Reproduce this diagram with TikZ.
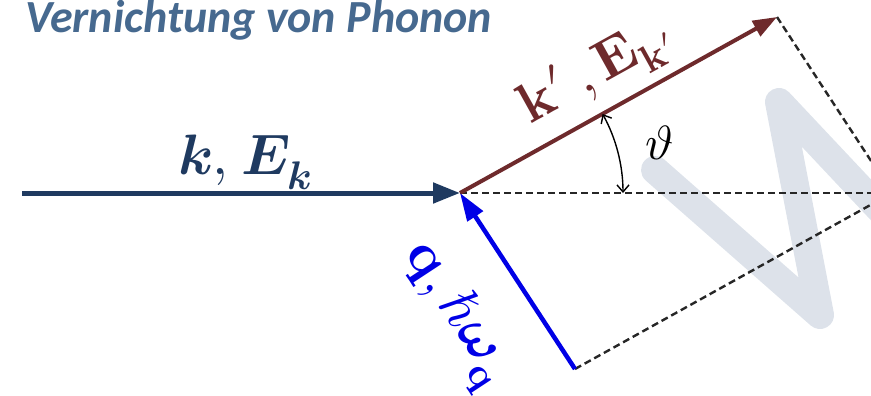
\documentclass[tikz,border=0pt]{standalone}
\usepackage{fontspec}
\usepackage{unicode-math}
\setmathfont{Latin Modern Math}
\usetikzlibrary{arrows.meta,calc}
\newfontfamily\titlefont{Carlito}
\definecolor{navy}{HTML}{1F3A60}
\definecolor{titleblue}{HTML}{46698F}
\definecolor{brownred}{HTML}{6E2A2C}
\definecolor{qblue}{HTML}{0000E6}
\definecolor{wmark}{HTML}{DDE2EA}
\begin{document}
\begin{tikzpicture}[x=1pt,y=-1pt,
  dashline/.style={black!85,line width=2.4pt,dash pattern=on 7pt off 4pt},
  biglabel/.style={inner sep=0pt,font=\fontsize{56}{60}\selectfont},
]
\useasboundingbox (0,0) rectangle (871,396);
\clip (0,0) rectangle (871,396);
% watermark
\draw[wmark,line width=28pt,line cap=round,line join=round]
  (655,170) -- (820,315) -- (779,102) -- (905,236);
% points
\coordinate (L) at (22,193);
\coordinate (O) at (460,193);
\coordinate (A) at (777,17);
\coordinate (B) at (575,369);
\coordinate (D) at (892,193);
% dashed rectangle
\draw[dashline] (O) -- (D);
\draw[dashline] (A) -- (D);
\draw[dashline] (B) -- (D);
% vectors
\draw[navy,line width=5pt,-{Triangle[length=27pt,width=20pt]}] (L) -- (O);
\draw[brownred,line width=4pt,-{Triangle[length=24pt,width=17pt]}] (O) -- (A);
\draw[qblue,line width=4.5pt,-{Triangle[length=28pt,width=18pt]}] (B) -- (O);
% angle
\draw[black,line width=1.4pt,{Straight Barb[length=7pt,width=12pt]}-{Straight Barb[length=7pt,width=12pt]}]
  ($(O)+(163,0)$) arc[start angle=0,end angle=-29,radius=163];
\node[inner sep=0pt,font=\fontsize{48}{50}\selectfont] (th) at (660,143) {$\vartheta$};
% labels
\node[anchor=base west,inner sep=0pt,text=titleblue,font=\titlefont\bfseries\itshape\fontsize{46}{50}\selectfont] (title) at (25,33) {Vernichtung von Phonon};
\node[biglabel,anchor=base west,text=navy,font=\fontsize{57}{60}\selectfont] (kl) at (178,175) {$\symbfit{k},\mkern1mu \symbfit{E}_{\symbfit{k}}$};
\node[biglabel,text=brownred,rotate=29] (kpl) at (596,72) {$\symbf{k}\prime\,,\symbf{E}_{\symbf{k}\prime}$};
\node[biglabel,text=qblue,rotate=-56.7] (ql) at (455,315) {$\symbf{q}, \hbar\symbfit{\omega}_{\symbf{q}}$};
\end{tikzpicture}
\end{document}
